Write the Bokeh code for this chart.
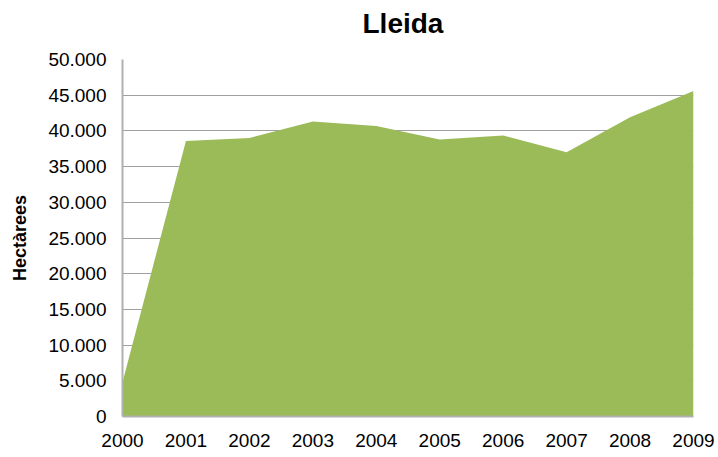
from bokeh.plotting import figure
from bokeh.models import FixedTicker, Range1d, Title
from bokeh.embed import file_html
from bokeh.resources import INLINE

years = [2000, 2001, 2002, 2003, 2004, 2005, 2006, 2007, 2008, 2009]
hectares = [4800, 38600, 39000, 41300, 40700, 38800, 39350, 37000, 41900, 45600]
year_labels = ["2000", "2001", "2002", "2003", "2004", "2005", "2006", "2007", "2008", "2009"]
y_ticks = [0, 5000, 10000, 15000, 20000, 25000, 30000, 35000, 40000, 45000, 50000]
y_labels = ["0", "5.000", "10.000", "15.000", "20.000", "25.000", "30.000", "35.000", "40.000", "45.000", "50.000"]
title_text = "Lleida"

FONT = "Liberation Sans"

p = figure(width=718, height=457, output_backend="svg", toolbar_location=None,
           title_location=None,
           x_range=Range1d(2000, 2009), y_range=Range1d(0, 50000),
           min_border_left=122, min_border_right=25, min_border_top=59, min_border_bottom=41)

# invisible spacer between frame and title
spacer = Title(text=" ", text_font=FONT, text_font_size="10px", standoff=8)
p.add_layout(spacer, "above")

main_title = Title(text=title_text, align="left", offset=240, text_font=FONT,
                   text_font_size="28px", text_font_style="bold",
                   text_color="#000000", standoff=0)
p.add_layout(main_title, "above")

p.varea(x=years, y1=0, y2=hectares, fill_color="#9BBB59")

p.outline_line_color = None
p.xgrid.grid_line_color = None
p.ygrid.grid_line_color = "#A0A0A0"
p.ygrid.grid_line_width = 1

p.xaxis.ticker = FixedTicker(ticks=years)
p.xaxis.major_label_overrides = {y: l for y, l in zip(years, year_labels)}
p.yaxis.ticker = FixedTicker(ticks=y_ticks)
p.yaxis.major_label_overrides = {t: l for t, l in zip(y_ticks, y_labels)}

for ax in (p.xaxis[0], p.yaxis[0]):
    ax.axis_line_color = "#B0B0B0"
    ax.axis_line_width = 2
    ax.major_tick_line_color = None
    ax.minor_tick_line_color = None
    ax.major_tick_out = 0
    ax.major_tick_in = 0
    ax.major_label_text_font = FONT
    ax.major_label_text_font_size = "19px"
    ax.major_label_text_color = "#000000"

p.xaxis.major_label_standoff = 17
p.yaxis.major_label_standoff = 16

p.yaxis.axis_label = "Hectàrees"
p.yaxis.axis_label_text_font = FONT
p.yaxis.axis_label_text_font_size = "18px"
p.yaxis.axis_label_text_font_style = "bold"
p.yaxis.axis_label_text_color = "#000000"
p.yaxis.axis_label_standoff = 15

open("out.html", "w").write(file_html(p, INLINE))
